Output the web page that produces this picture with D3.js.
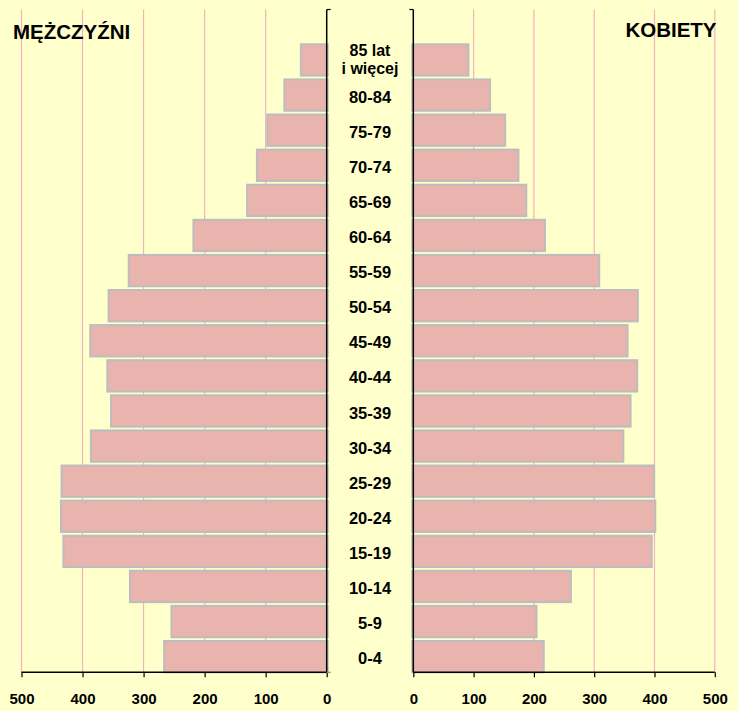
<!DOCTYPE html>
<html><head><meta charset="utf-8">
<script src="https://cdn.jsdelivr.net/npm/d3@7"></script>
<style>
html,body{margin:0;padding:0;background:#FFFFCC;}
svg{display:block;}
text{font-family:"Liberation Sans",Arial,sans-serif;font-weight:bold;fill:#000;}
</style></head>
<body>
<svg id="chart" width="738" height="711"></svg>
<script>
const categories = ["0-4","5-9","10-14","15-19","20-24","25-29","30-34","35-39","40-44","45-49","50-54","55-59","60-64","65-69","70-74","75-79","80-84","85 lat|i więcej"];
const men   = [268,256,324,433,437,436,388,355,361,389,359,326,220,132,116,99,71,44];
const women = [218,206,263,397,403,401,350,362,373,357,374,310,220,189,176,154,129,93];
const tickValues = [0,100,200,300,400,500];
const titleLeft = "MĘŻCZYŹNI";
const titleRight = "KOBIETY";

(function(){
const svg = d3.select("#chart");
svg.append("rect").attr("width",738).attr("height",711).attr("fill","#FFFFCC");

const yTop = 9.5, yBottom = 672.3;
const xL = d3.scaleLinear().domain([0,500]).range([326.7,21.5]);
const xR = d3.scaleLinear().domain([0,500]).range([413.3,714.8]);
const y = d3.scaleBand().domain(categories).range([yBottom,40.5]);
const bw = y.bandwidth();

const grid = svg.append("g");
[100,200,300,400,500].forEach(v=>{
  grid.append("line").attr("x1",xL(v)).attr("x2",xL(v)).attr("y1",yTop).attr("y2",yBottom)
    .attr("stroke","#F0B4BE").attr("stroke-width",1.2);
  grid.append("line").attr("x1",xR(v)).attr("x2",xR(v)).attr("y1",yTop).attr("y2",yBottom)
    .attr("stroke","#F0B4BE").attr("stroke-width",1.2);
});

const barTop = c => y(c) + bw*0.08;
const barH = bw*0.95;
svg.append("g").selectAll("rect").data(categories).join("rect")
  .attr("x",(c,i)=>xL(men[i])+1).attr("y",c=>barTop(c)+1)
  .attr("width",(c,i)=>xL(0)-xL(men[i])).attr("height",barH-2)
  .attr("fill","#E8B4AD").attr("stroke","#BDBDBD").attr("stroke-width",2);
svg.append("g").selectAll("rect").data(categories).join("rect")
  .attr("x",xR(0)-1).attr("y",c=>barTop(c)+1)
  .attr("width",(c,i)=>xR(women[i])-xR(0)).attr("height",barH-2)
  .attr("fill","#E8B4AD").attr("stroke","#BDBDBD").attr("stroke-width",2);

// axes
const axL = svg.append("g").attr("transform",`translate(0,${yBottom})`)
  .call(d3.axisBottom(xL).tickValues(tickValues).tickSize(5).tickFormat(d3.format("d")));
const axR = svg.append("g").attr("transform",`translate(0,${yBottom})`)
  .call(d3.axisBottom(xR).tickValues(tickValues).tickSize(5).tickFormat(d3.format("d")));
[axL,axR].forEach(a=>{
  a.select(".domain").remove();
  a.selectAll(".tick line").attr("stroke","#000").attr("stroke-width",1.2);
  a.selectAll(".tick text").attr("font-size",15).attr("font-family","Liberation Sans, Arial, sans-serif")
    .attr("font-weight","bold").attr("fill","#000").attr("y",32).attr("dy",null);
});
svg.append("line").attr("x1",xL(500)).attr("x2",xL(0)).attr("y1",yBottom).attr("y2",yBottom).attr("stroke","#000").attr("stroke-width",1.5);
svg.append("line").attr("x1",xR(0)).attr("x2",xR(500)).attr("y1",yBottom).attr("y2",yBottom).attr("stroke","#000").attr("stroke-width",1.5);

// vertical category axes
svg.append("line").attr("x1",xL(0)).attr("x2",xL(0)).attr("y1",yTop).attr("y2",yBottom).attr("stroke","#000").attr("stroke-width",1.5);
svg.append("line").attr("x1",xR(0)).attr("x2",xR(0)).attr("y1",yTop).attr("y2",yBottom).attr("stroke","#000").attr("stroke-width",1.5);
svg.append("line").attr("x1",xL(0)).attr("x2",xL(0)+4).attr("y1",yTop).attr("y2",yTop).attr("stroke","#000").attr("stroke-width",1.2);
svg.append("line").attr("x1",xR(0)-4).attr("x2",xR(0)).attr("y1",yTop).attr("y2",yTop).attr("stroke","#000").attr("stroke-width",1.2);
svg.append("line").attr("x1",xL(0)).attr("x2",xL(0)+4).attr("y1",yBottom).attr("y2",yBottom).attr("stroke","#888").attr("stroke-width",1.2);

// category labels
const midX = (xL(0)+xR(0))/2;
const lab = svg.append("g");
categories.forEach(c=>{
  const cy = y(c)+bw/2;
  const parts = c.split("|");
  if(parts.length===1){
    lab.append("text").attr("x",midX).attr("text-anchor","middle").attr("font-size",16.5)
      .attr("y",cy+9.5).text(c);
  } else {
    lab.append("text").attr("x",midX).attr("text-anchor","middle").attr("font-size",16)
      .attr("y",cy-2).text(parts[0]);
    lab.append("text").attr("x",midX).attr("text-anchor","middle").attr("font-size",16)
      .attr("y",cy+15.5).text(parts[1]);
  }
});

svg.append("text").attr("x",13).attr("y",39).attr("font-size",20.5).text(titleLeft);
svg.append("text").attr("x",716.5).attr("y",37).attr("text-anchor","end").attr("font-size",20.5).text(titleRight);
})();
</script>
</body></html>
